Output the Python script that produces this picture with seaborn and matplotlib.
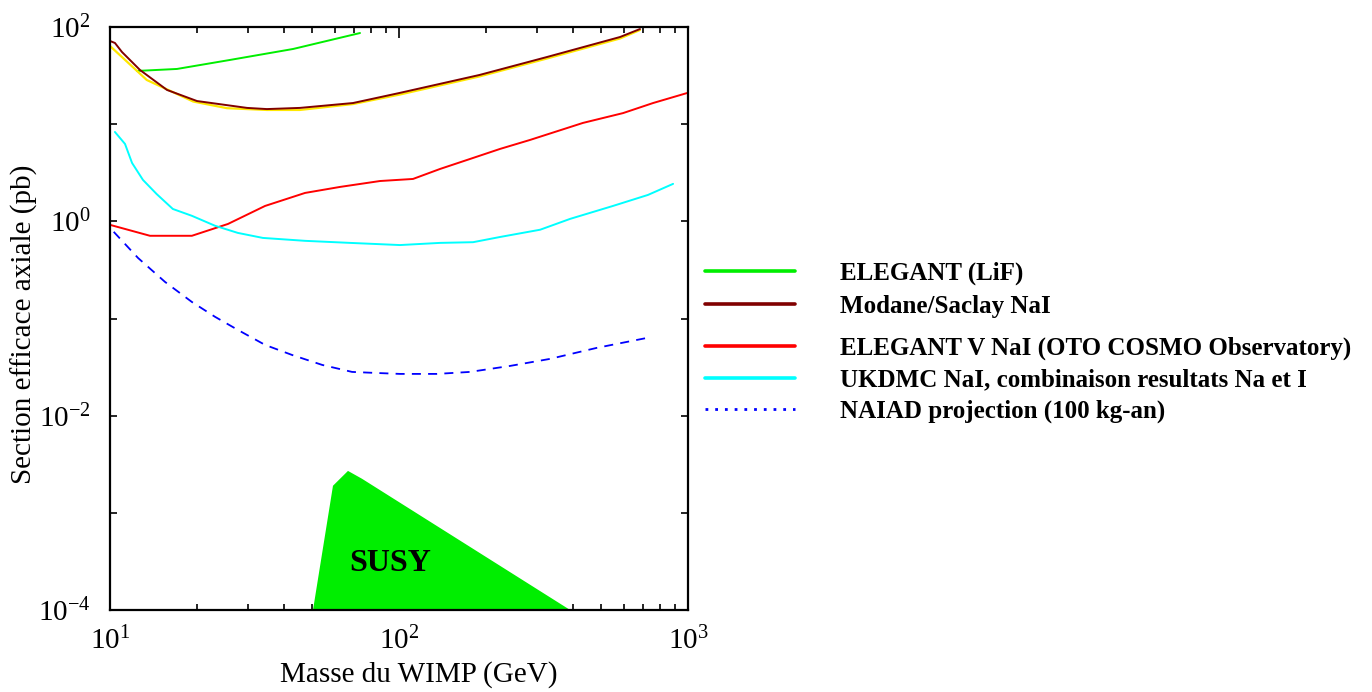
import numpy as np
import matplotlib
matplotlib.use('Agg')
import matplotlib.pyplot as plt
import matplotlib.ticker as mticker
from matplotlib.lines import Line2D
import seaborn as sns

# ELEGANT (LiF)
lif_mass = [12.4, 17.05, 26.0, 43.0, 73.3]
lif_xsec = [35.3, 37.0, 45.8, 59.4, 86.7]

# Modane/Saclay NaI
mod_mass = [10.0, 10.4, 11.0, 12.7, 15.75, 20.0, 29.8, 34.9, 45.4, 69.3, 100.8, 190, 325, 582, 682]
mod_xsec = [71.8, 68.5, 55.3, 36.1, 22.5, 17.3, 14.7, 14.3, 14.7, 16.5, 21.0, 32.1, 49.1, 78.9, 95.3]

# yellow curve drawn under Modane (not in legend)
yel_mass = [10.0, 13.4, 19.4, 25.4, 34.9, 45.4, 69.3, 100.8, 190, 325, 582, 682]
yel_xsec = [63.8, 28.5, 17.1, 14.6, 14.0, 14.0, 16.1, 20.2, 31.0, 47.4, 76.2, 93.1]

# ELEGANT V NaI (OTO)
oto_mass = [10.0, 13.75, 19.2, 25.6, 34.4, 47.3, 62.5, 86.0, 111.8, 138.7, 180.4, 223.6, 284, 433, 596, 757, 992]
oto_xsec = [0.92, 0.71, 0.71, 0.94, 1.44, 1.96, 2.26, 2.60, 2.73, 3.46, 4.49, 5.56, 6.88, 10.3, 13.0, 16.5, 20.9]

# UKDMC NaI
uk_mass = [10.4, 11.27, 11.92, 13.0, 14.5, 16.5, 19.2, 23.1, 27.7, 33.8, 47.3, 67.7, 100.8, 138.7, 180.4, 223.6, 308, 391, 550, 727, 888]
uk_xsec = [8.31, 6.26, 3.99, 2.67, 1.91, 1.34, 1.14, 0.90, 0.76, 0.675, 0.63, 0.60, 0.57, 0.60, 0.61, 0.69, 0.82, 1.06, 1.44, 1.87, 2.43]

# NAIAD projection
naiad_mass = [10.3, 12.5, 15.5, 19.2, 23.1, 27.7, 34.4, 42.6, 54.2, 68.8, 81.3, 100.8, 135.3, 176, 242.2, 333, 484, 721]
naiad_xsec = [0.78, 0.42, 0.238, 0.148, 0.104, 0.0763, 0.0535, 0.0422, 0.0333, 0.0282, 0.0276, 0.0269, 0.0269, 0.0282, 0.0325, 0.0384, 0.0499, 0.0631]

# SUSY region
susy_mass = [50.4, 59.1, 66.6, 74.5, 391]
susy_xsec = [1e-4, 1.9e-3, 2.7e-3, 2.24e-3, 1e-4]

labels = ['ELEGANT (LiF)', 'Modane/Saclay NaI', 'ELEGANT V NaI (OTO COSMO Observatory)',
          'UKDMC NaI, combinaison resultats Na et I', 'NAIAD projection (100 kg-an)']
colors = ['#00ee00', '#800000', '#ff0000', '#00ffff', '#0000ff']

sns.set_theme(style='ticks')
plt.rcParams['font.family'] = ['Liberation Serif', 'DejaVu Serif']
plt.rcParams['mathtext.fontset'] = 'custom'
plt.rcParams['mathtext.rm'] = 'Liberation Serif'
plt.rcParams['mathtext.it'] = 'Liberation Serif:italic'
plt.rcParams['mathtext.bf'] = 'Liberation Serif:bold'
for k in ['text.color', 'axes.labelcolor', 'xtick.color', 'ytick.color', 'axes.edgecolor']:
    plt.rcParams[k] = 'black'

fig = plt.figure(figsize=(13.72, 6.92), dpi=100)
ax = fig.add_axes([110/1372, 1-610/692, 578/1372, 583/692])

ax.fill(susy_mass, susy_xsec, color='#00ee00', lw=0, zorder=1)
ax.text(93, 3.0e-4, 'SUSY', fontsize=23, fontweight='bold', ha='center', va='center', zorder=2)

sns.lineplot(x=lif_mass, y=lif_xsec, ax=ax, color=colors[0], lw=1.4)
sns.lineplot(x=yel_mass, y=yel_xsec, ax=ax, color='#ffe800', lw=1.6)
sns.lineplot(x=mod_mass, y=mod_xsec, ax=ax, color=colors[1], lw=1.4)
sns.lineplot(x=oto_mass, y=oto_xsec, ax=ax, color=colors[2], lw=1.4)
sns.lineplot(x=uk_mass, y=uk_xsec, ax=ax, color=colors[3], lw=1.4)
sns.lineplot(x=naiad_mass, y=naiad_xsec, ax=ax, color=colors[4], lw=1.3, linestyle=(0, (5, 4)))

ax.set_xscale('log')
ax.set_yscale('log')
ax.set_xlim(10, 1000)
ax.set_ylim(1e-4, 1e2)

ax.xaxis.set_major_locator(mticker.FixedLocator([10, 100, 1000]))
ax.xaxis.set_minor_locator(mticker.LogLocator(base=10, subs=np.arange(2, 10)))
ax.xaxis.set_minor_formatter(mticker.NullFormatter())
ax.xaxis.set_major_formatter(mticker.FuncFormatter(lambda v, p: r'$\mathregular{10^{%d}}$' % int(round(np.log10(v)))))
ax.yaxis.set_major_locator(mticker.FixedLocator([1e-4, 1e-3, 1e-2, 1e-1, 1, 10, 100]))
ax.yaxis.set_minor_locator(mticker.NullLocator())
ax.yaxis.set_major_formatter(mticker.FuncFormatter(
    lambda v, p: '' if int(round(np.log10(v))) % 2 else r'$\mathregular{10^{%d}}$' % int(round(np.log10(v)))))

ax.tick_params(which='both', direction='in', top=True, right=True, width=1.2)
ax.tick_params(axis='x', which='major', length=8, labelsize=21, pad=12)
ax.tick_params(axis='x', which='minor', length=4)
ax.tick_params(axis='y', which='major', length=5, labelsize=21, pad=14)
for s in ax.spines.values():
    s.set_linewidth(1.6)

ax.set_xlabel('Masse du WIMP (GeV)', fontsize=21)
ax.set_ylabel('Section efficace axiale (pb)', fontsize=21)
ax.xaxis.set_label_coords(0.535, -0.087)
ax.xaxis.label.set_va('top')
ax.yaxis.set_label_coords(-0.124, 0.49)

handles = [Line2D([], [], color=colors[0], lw=2.6),
           Line2D([], [], color=colors[1], lw=2.6),
           Line2D([], [], color=colors[2], lw=2.6),
           Line2D([], [], color=colors[3], lw=2.6),
           Line2D([], [], color=colors[4], lw=2.0, linestyle=(0, (1, 2.5)))]
leg_font = {'family': 'Liberation Serif', 'weight': 'bold', 'size': 18}
leg1 = fig.legend(handles[:2], labels[:2], loc='upper left', bbox_to_anchor=(693/1372, 1-249/692),
                  frameon=False, borderpad=0, handlelength=3.6, handletextpad=1.8, labelspacing=0.4,
                  prop=leg_font)
leg2 = fig.legend(handles[2:], labels[2:], loc='upper left', bbox_to_anchor=(693/1372, 1-324/692),
                  frameon=False, borderpad=0, handlelength=3.6, handletextpad=1.8, labelspacing=0.34,
                  prop=leg_font)

fig.savefig('out.png', dpi=100)
